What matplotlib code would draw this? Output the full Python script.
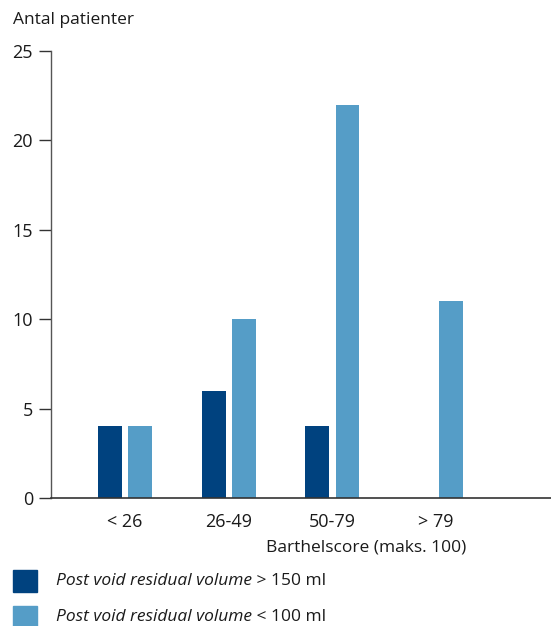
import matplotlib
matplotlib.use("Agg")
import matplotlib.pyplot as plt
from matplotlib.patches import Rectangle
import numpy as np

# ── data ──
categories = ["< 26", "26-49", "50-79", "> 79"]
pvr_over_150 = [4, 6, 4, 0]
pvr_under_100 = [4, 10, 22, 11]
y_ticks = [0, 5, 10, 15, 20, 25]

DARK = "#00427f"
LIGHT = "#559dc7"
TEXT = "#1a1a1a"

plt.rcParams["font.family"] = ["Open Sans", "DejaVu Sans"]

W, H = 551, 626
fig = plt.figure(figsize=(W / 100, H / 100), dpi=100)

# axes placed from pixel positions of the reference
left_px, right_px, top_px, bottom_px = 51, 551, 51, 498
ax = fig.add_axes([left_px / W, 1 - bottom_px / H,
                   (right_px - left_px) / W, (bottom_px - top_px) / H])

x = np.arange(len(categories))
width = 0.23
offset = 0.145
ax.bar(x - offset, pvr_over_150, width, color=DARK)
ax.bar(x + offset, pvr_under_100, width, color=LIGHT)

# group centres at px 125 + 103.7*i
spacing = 103.7
ax.set_xlim((left_px - 125) / spacing, (right_px - 125) / spacing)
ax.set_ylim(0, 25)
ax.set_yticks(y_ticks)
ax.set_xticks(x, categories)

for side in ("top", "right"):
    ax.spines[side].set_visible(False)
ax.spines["left"].set_color("#555555")
ax.spines["left"].set_linewidth(1.0)
ax.spines["bottom"].set_color("#333333")
ax.spines["bottom"].set_linewidth(1.2)

ax.tick_params(axis="y", length=8.5, width=1.0, color="#333333",
               pad=4.5, labelsize=13, labelcolor=TEXT)
ax.tick_params(axis="x", length=0, pad=11, labelsize=13, labelcolor=TEXT)

ax.text(13 / W, 1 - 20 / H, "Antal patienter", transform=fig.transFigure,
        fontsize=12.5, color=TEXT, ha="left", va="center")
ax.text(366 / W, 1 - 548 / H, "Barthelscore (maks. 100)",
        transform=fig.transFigure, fontsize=12.5, color=TEXT,
        ha="center", va="center")

# ── legend with mixed italic/regular text ──
renderer = fig.canvas.get_renderer()
legend_rows = [
    (DARK, 581, " > 150 ml"),
    (LIGHT, 617, " < 100 ml"),
]
for color, yc, tail in legend_rows:
    fig.patches.append(Rectangle((13 / W, 1 - (yc + 11) / H), 24 / W, 22 / H,
                                 transform=fig.transFigure, color=color))
    t = fig.text(56 / W, 1 - yc / H, "Post void residual volume",
                 fontsize=12.5, style="italic", color=TEXT,
                 ha="left", va="center")
    bb = t.get_window_extent(renderer)
    fig.text(bb.x1 / W, 1 - yc / H, tail, fontsize=12.5, color=TEXT,
             ha="left", va="center")

fig.savefig("out.png", dpi=100)
